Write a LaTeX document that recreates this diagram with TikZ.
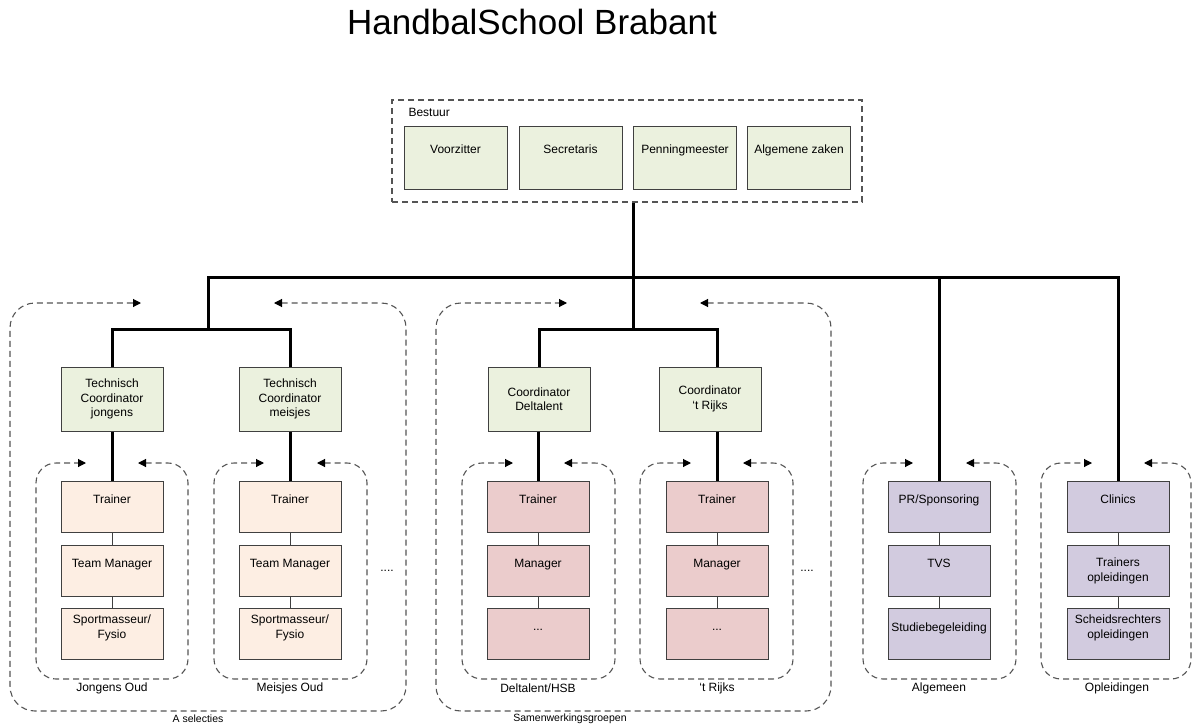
\documentclass[tikz,border=0pt]{standalone}
\usepackage{fontspec}
\setmainfont{Liberation Sans}
\usepackage{tikz}
\usetikzlibrary{arrows.meta}

\definecolor{boardgreen}{HTML}{EBF1DE}
\definecolor{peach}{HTML}{FDEEE3}
\definecolor{rose}{HTML}{EBCCCC}
\definecolor{lilac}{HTML}{D2CBDF}
\definecolor{boxline}{HTML}{404040}
\definecolor{grpline}{HTML}{555555}

% text hung from the top of a box
\newcommand{\toptxt}[2][24pt]{\parbox[c][#1][t]{100pt}{\centering\vphantom{T}#2}}

\tikzset{
  board/.style={draw=boxline, line width=1pt, fill=boardgreen, minimum width=103pt, minimum height=63pt, inner sep=0pt},
  coord/.style={draw=boxline, line width=1pt, fill=boardgreen, minimum width=102pt, minimum height=64pt, align=center},
  unit/.style={draw=boxline, line width=1pt, minimum width=102pt, minimum height=51pt, inner sep=0pt},
  hier/.style={line width=3pt},
  link/.style={draw=boxline, line width=0.8pt},
  grp/.style={draw=grpline, line width=1.1pt, dash pattern=on 6pt off 4pt},
  inout/.style={{Triangle[length=8pt,width=8pt,color=black]}-{Triangle[length=8pt,width=8pt,color=black]}},
  smalllbl/.style={font=\fontsize{10.5}{12}\selectfont}
}

\begin{document}
\begin{tikzpicture}[x=1pt,y=-1pt,font=\fontsize{12}{14.5}\selectfont]
\useasboundingbox (0,0) rectangle (1192,728);

% Title
\node[font=\fontsize{35}{40}\selectfont] (title) at (532,22) {HandbalSchool Brabant};

% Bestuur
\node[grp, minimum width=470pt, minimum height=102pt] (bestuur) at (627,151) {};
\node[anchor=west] (bestuurlbl) at (405,112) {Bestuur};
\node[board] (voorzitter) at (455.5,157.5) {\toptxt[26pt]{Voorzitter}};
\node[board] (secretaris) at (570.5,157.5) {\toptxt[26pt]{Secretaris}};
\node[board] (penning) at (685,157.5) {\toptxt[26pt]{Penningmeester}};
\node[board] (algzaken) at (799,157.5) {\toptxt[26pt]{Algemene zaken}};

% Coordinators
\node[coord] (jc) at (112,399) {Technisch\\Coordinator\\jongens};
\node[coord] (mc) at (290,399) {Technisch\\Coordinator\\meisjes};
\node[coord] (dc) at (539,399) {Coordinator\\Deltalent};
\node[coord] (rc) at (710,399) {Coordinator\\`t Rijks};

% Jongens Oud / Meisjes Oud
\node[unit, fill=peach] (jo1) at (112,507) {\toptxt{Trainer}};
\node[unit, fill=peach] (jo2) at (112,571) {\toptxt{Team Manager}};
\node[unit, fill=peach] (jo3) at (112,634) {\toptxt[38pt]{Sportmasseur/\\Fysio}};
\node[unit, fill=peach] (mo1) at (290,507) {\toptxt{Trainer}};
\node[unit, fill=peach] (mo2) at (290,571) {\toptxt{Team Manager}};
\node[unit, fill=peach] (mo3) at (290,634) {\toptxt[38pt]{Sportmasseur/\\Fysio}};

% Deltalent/HSB / 't Rijks
\node[unit, fill=rose] (dt1) at (538,507) {\toptxt{Trainer}};
\node[unit, fill=rose] (dt2) at (538,571) {\toptxt{Manager}};
\node[unit, fill=rose] (dt3) at (538,634) {\toptxt{...}};
\node[unit, fill=rose] (rk1) at (717,507) {\toptxt{Trainer}};
\node[unit, fill=rose] (rk2) at (717,571) {\toptxt{Manager}};
\node[unit, fill=rose] (rk3) at (717,634) {\toptxt{...}};

% Algemeen / Opleidingen
\node[unit, fill=lilac] (al1) at (939,507) {\toptxt{PR/Sponsoring}};
\node[unit, fill=lilac] (al2) at (939,571) {\toptxt{TVS}};
\node[unit, fill=lilac] (al3) at (939,634) {\toptxt[22pt]{Studiebegeleiding}};
\node[unit, fill=lilac] (op1) at (1118,507) {\toptxt{Clinics}};
\node[unit, fill=lilac] (op2) at (1118,571) {\toptxt[26pt]{Trainers\\opleidingen}};
\node[unit, fill=lilac] (op3) at (1118,634) {\toptxt[38pt]{Scheidsrechters\\opleidingen}};

% thin links inside a column
\draw[link] (jo1) -- (jo2) -- (jo3);
\draw[link] (mo1) -- (mo2) -- (mo3);
\draw[link] (dt1) -- (dt2) -- (dt3);
\draw[link] (rk1) -- (rk2) -- (rk3);
\draw[link] (al1) -- (al2) -- (al3);
\draw[link] (op1) -- (op2) -- (op3);

% hierarchy
\coordinate (top) at (633,277);
\coordinate (busL) at (208,277);
\coordinate (barA) at (208,329);
\coordinate (barB) at (633,329);
\draw[hier] (bestuur.south -| top) -- (top);
\draw[hier] (barA) -- (busL) -- (busL -| op1.north) -- (op1.north); % bus
\draw[hier] (top) -- (barB);
\draw[hier] (al1.north |- busL) -- (al1.north);
\draw[hier] (jc.north) |- (barA) -| (mc.north);
\draw[hier] (dc.north) |- (barB) -| (rk1.north |- rc.north);
\draw[hier] (jc.south) -- (jo1.north);
\draw[hier] (mc.south) -- (mo1.north);
\draw[hier] (dt1.north |- dc.south) -- (dt1.north);
\draw[hier] (rk1.north |- rc.south) -- (rk1.north);

% dashed groups, inner
\draw[grp, inout] (138,463) [rounded corners=20pt] -- (188,463) -- (188,679) -- (36,679) -- (36,463) -- (86,463); % Jongens Oud
\draw[grp, inout] (317,463) [rounded corners=20pt] -- (367,463) -- (367,679) -- (214,679) -- (214,463) -- (264,463); % Meisjes Oud
\draw[grp, inout] (564,463) [rounded corners=20pt] -- (615,463) -- (615,679) -- (462,679) -- (462,463) -- (513,463); % Deltalent/HSB
\draw[grp, inout] (743,463) [rounded corners=20pt] -- (793,463) -- (793,679) -- (640,679) -- (640,463) -- (691,463); % 't Rijks
\draw[grp, inout] (966,463) [rounded corners=20pt] -- (1016,463) -- (1016,679) -- (863,679) -- (863,463) -- (913,463); % Algemeen
\draw[grp, inout] (1144,463) [rounded corners=20pt] -- (1191,463) -- (1191,679) -- (1041,679) -- (1041,463) -- (1092,463); % Opleidingen

% dashed groups, outer
\draw[grp, inout] (274,303) [rounded corners=25pt] -- (406,303) -- (406,711) -- (10,711) -- (10,303) -- (141,303); % A selecties
\draw[grp, inout] (700,303) [rounded corners=25pt] -- (831,303) -- (831,711) -- (436,711) -- (436,303) -- (567,303); % Samenwerkingsgroepen

% group labels
\node (jolbl) at (112,688) {Jongens Oud};
\node (molbl) at (290,688) {Meisjes Oud};
\node (dtlbl) at (538,688) {Deltalent/HSB};
\node (rklbl) at (717,688) {`t Rijks};
\node (allbl) at (939,688) {Algemeen};
\node (oplbl) at (1117,688) {Opleidingen};
\node[smalllbl] (albl) at (198,719) {A selecties};
\node[smalllbl] (blbl) at (570,719) {Samenwerkingsgroepen};

% more teams
\node (moreA) at (387,571) {....};
\node (moreB) at (807,571) {....};
\end{tikzpicture}
\end{document}
